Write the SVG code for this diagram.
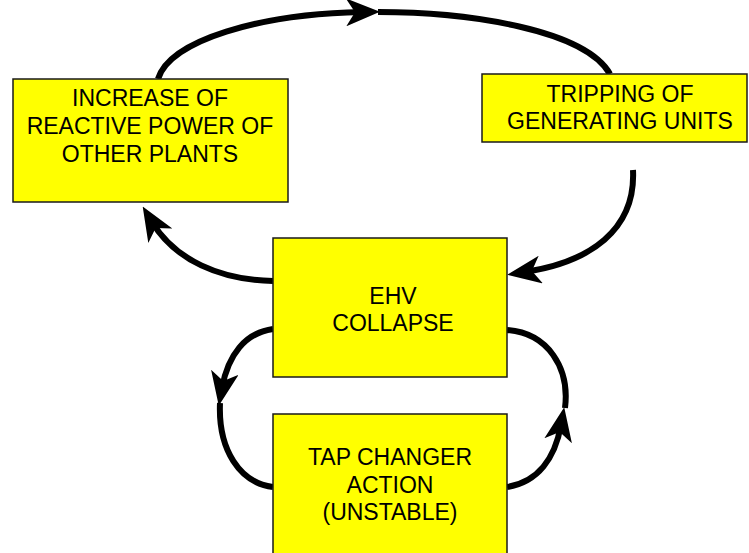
<svg xmlns="http://www.w3.org/2000/svg" width="749" height="553" viewBox="0 0 749 553">
<style>
.box{fill:#FFFF00;stroke:#1a1a1a;stroke-width:1.5}
.lbl{font-family:"Liberation Sans",Arial,sans-serif;font-size:23px;fill:#000;text-anchor:middle}
.con{fill:none;stroke:#000;stroke-width:6}
</style>
<defs>
<marker id="ah" markerUnits="userSpaceOnUse" viewBox="0 0 34 28" markerWidth="34" markerHeight="28" refX="16" refY="14" orient="auto">
<path d="M0,0 L34,14 L0,28 L9,14 Z" fill="#000"/>
</marker>
</defs>
<rect width="749" height="553" fill="#fff"/>
<g id="connectors">
<path class="con" d="M158,79 C170,40 260,14 362,12" marker-end="url(#ah)"/>
<path class="con" d="M378,12 C470,12 585,30 610,74"/>
<path class="con" d="M633,170 C636,230 590,262 525,272" marker-end="url(#ah)"/>
<path class="con" d="M273,281 C220,280 175,260 152,222" marker-end="url(#ah)"/>
<path class="con" d="M273,329 C245,333 228,355 222,388" marker-end="url(#ah)"/>
<path class="con" d="M220,403 C218,450 240,483 273,487"/>
<path class="con" d="M507,487 C538,482 555,458 561,425" marker-end="url(#ah)"/>
<path class="con" d="M565,408 C570,368 548,333 507,330"/>
</g>
<g id="node-increase">
<rect class="box" x="13" y="79" width="275" height="123"/>
<text class="lbl" x="150" y="106">INCREASE OF</text>
<text class="lbl" x="150" y="134">REACTIVE POWER OF</text>
<text class="lbl" x="150" y="162">OTHER PLANTS</text>
</g>
<g id="node-tripping">
<rect class="box" x="482" y="74" width="265" height="68"/>
<text class="lbl" x="620" y="102">TRIPPING OF</text>
<text class="lbl" x="620" y="129">GENERATING UNITS</text>
</g>
<g id="node-ehv">
<rect class="box" x="273" y="238" width="234" height="139"/>
<text class="lbl" x="393" y="304">EHV</text>
<text class="lbl" x="393" y="331">COLLAPSE</text>
</g>
<g id="node-tap">
<rect class="box" x="273" y="414" width="234" height="150"/>
<text class="lbl" x="390" y="465">TAP CHANGER</text>
<text class="lbl" x="390" y="493">ACTION</text>
<text class="lbl" x="390" y="520">(UNSTABLE)</text>
</g>
</svg>
